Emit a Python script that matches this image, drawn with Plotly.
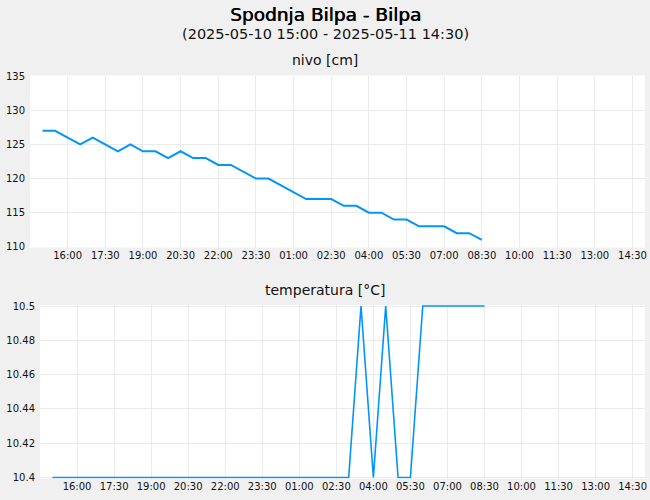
import plotly.graph_objects as go

# ---- data (30-minute readings) ----
times = [
    "2025-05-10 15:00", "2025-05-10 15:30", "2025-05-10 16:00", "2025-05-10 16:30",
    "2025-05-10 17:00", "2025-05-10 17:30", "2025-05-10 18:00", "2025-05-10 18:30",
    "2025-05-10 19:00", "2025-05-10 19:30", "2025-05-10 20:00", "2025-05-10 20:30",
    "2025-05-10 21:00", "2025-05-10 21:30", "2025-05-10 22:00", "2025-05-10 22:30",
    "2025-05-10 23:00", "2025-05-10 23:30", "2025-05-11 00:00", "2025-05-11 00:30",
    "2025-05-11 01:00", "2025-05-11 01:30", "2025-05-11 02:00", "2025-05-11 02:30",
    "2025-05-11 03:00", "2025-05-11 03:30", "2025-05-11 04:00", "2025-05-11 04:30",
    "2025-05-11 05:00", "2025-05-11 05:30", "2025-05-11 06:00", "2025-05-11 06:30",
    "2025-05-11 07:00", "2025-05-11 07:30", "2025-05-11 08:00", "2025-05-11 08:30",
]
nivo = [127, 127, 126, 125, 126, 125, 124, 125, 124, 124, 123, 124,
        123, 123, 122, 122, 121, 120, 120, 119, 118, 117, 117, 117,
        116, 116, 115, 115, 114, 114, 113, 113, 113, 112, 112, 111]
temperatura = [10.4, 10.4, 10.4, 10.4, 10.4, 10.4, 10.4, 10.4, 10.4, 10.4,
               10.4, 10.4, 10.4, 10.4, 10.4, 10.4, 10.4, 10.4, 10.4, 10.4,
               10.4, 10.4, 10.4, 10.4, 10.4, 10.5, 10.4, 10.5, 10.4, 10.4,
               10.5, 10.5, 10.5, 10.5, 10.5, 10.5]
time_ticks = [
    "2025-05-10 16:00", "2025-05-10 17:30", "2025-05-10 19:00", "2025-05-10 20:30",
    "2025-05-10 22:00", "2025-05-10 23:30", "2025-05-11 01:00", "2025-05-11 02:30",
    "2025-05-11 04:00", "2025-05-11 05:30", "2025-05-11 07:00", "2025-05-11 08:30",
    "2025-05-11 10:00", "2025-05-11 11:30", "2025-05-11 13:00", "2025-05-11 14:30",
]
nivo_ticks = [110, 115, 120, 125, 130, 135]
temp_ticks = [10.4, 10.42, 10.44, 10.46, 10.48, 10.5]

title = "Spodnja Bilpa - Bilpa"
subtitle = "(2025-05-10 15:00 - 2025-05-11 14:30)"
title_top = "nivo [cm]"
title_bottom = "temperatura [°C]"

W, H = 650, 500
FONT = "DejaVu Sans"
LINE = "#0096f8"
GRID = "#ebebeb"


def px_x(p):
    return p / W


def px_y(p):
    return 1 - p / H


fig = go.Figure()
fig.add_trace(go.Scatter(x=times, y=nivo, mode="lines", xaxis="x", yaxis="y",
                         line=dict(color=LINE, width=2), showlegend=False))
fig.add_trace(go.Scatter(x=times, y=temperatura, mode="lines", xaxis="x2", yaxis="y2",
                         line=dict(color=LINE, width=1.6), showlegend=False))

xcommon = dict(
    type="date",
    range=["2025-05-10 14:30", "2025-05-11 15:00"],
    tickmode="array",
    tickvals=time_ticks,
    tickformat="%H:%M",
    showgrid=True, gridcolor=GRID, gridwidth=1,
    zeroline=False, showline=False,
    tickfont=dict(family=FONT, size=10, color="#111"),
    ticks="",
    automargin=False,
)
ycommon = dict(
    showgrid=True, gridcolor=GRID, gridwidth=1,
    zeroline=False, showline=False,
    tickfont=dict(family=FONT, size=10, color="#111"),
    ticks="",
    ticklabelstandoff=4,
    automargin=False,
)

fig.update_layout(
    template="none",
    width=W, height=H,
    margin=dict(l=0, r=0, t=0, b=0, pad=0),
    paper_bgcolor="#f0f0f0",
    plot_bgcolor="#ffffff",
    font=dict(family=FONT, color="#111"),
    xaxis=dict(xcommon, domain=[px_x(30), px_x(645)], anchor="y"),
    yaxis=dict(ycommon, domain=[px_y(247.5), px_y(75.5)], anchor="x",
               range=[109.9, 135.1], tickvals=nivo_ticks),
    xaxis2=dict(xcommon, domain=[px_x(40), px_x(645)], anchor="y2"),
    yaxis2=dict(ycommon, domain=[px_y(478.5), px_y(305)], anchor="x2",
                range=[10.3994, 10.5006], tickvals=temp_ticks, tickformat=".2~f"),
    annotations=[
        dict(text=title, x=0.5, y=px_y(14), xref="paper", yref="paper",
             xanchor="center", yanchor="middle", showarrow=False,
             font=dict(family=FONT, size=18.5, color="#000",
                       shadow="0.6px 0 0 #000")),
        dict(text=subtitle, x=0.5, y=px_y(34.5), xref="paper", yref="paper",
             xanchor="center", yanchor="middle", showarrow=False,
             font=dict(family=FONT, size=14.5, color="#111")),
        dict(text=title_top, x=0.5, y=px_y(60), xref="paper", yref="paper",
             xanchor="center", yanchor="middle", showarrow=False,
             font=dict(family=FONT, size=14, color="#111")),
        dict(text=title_bottom, x=0.5, y=px_y(290), xref="paper", yref="paper",
             xanchor="center", yanchor="middle", showarrow=False,
             font=dict(family=FONT, size=14, color="#111")),
    ],
)

fig.write_html(
    "out.html",
    config={"displayModeBar": False},
    post_script="document.body.style.margin='0';document.body.style.overflow='hidden';",
)
